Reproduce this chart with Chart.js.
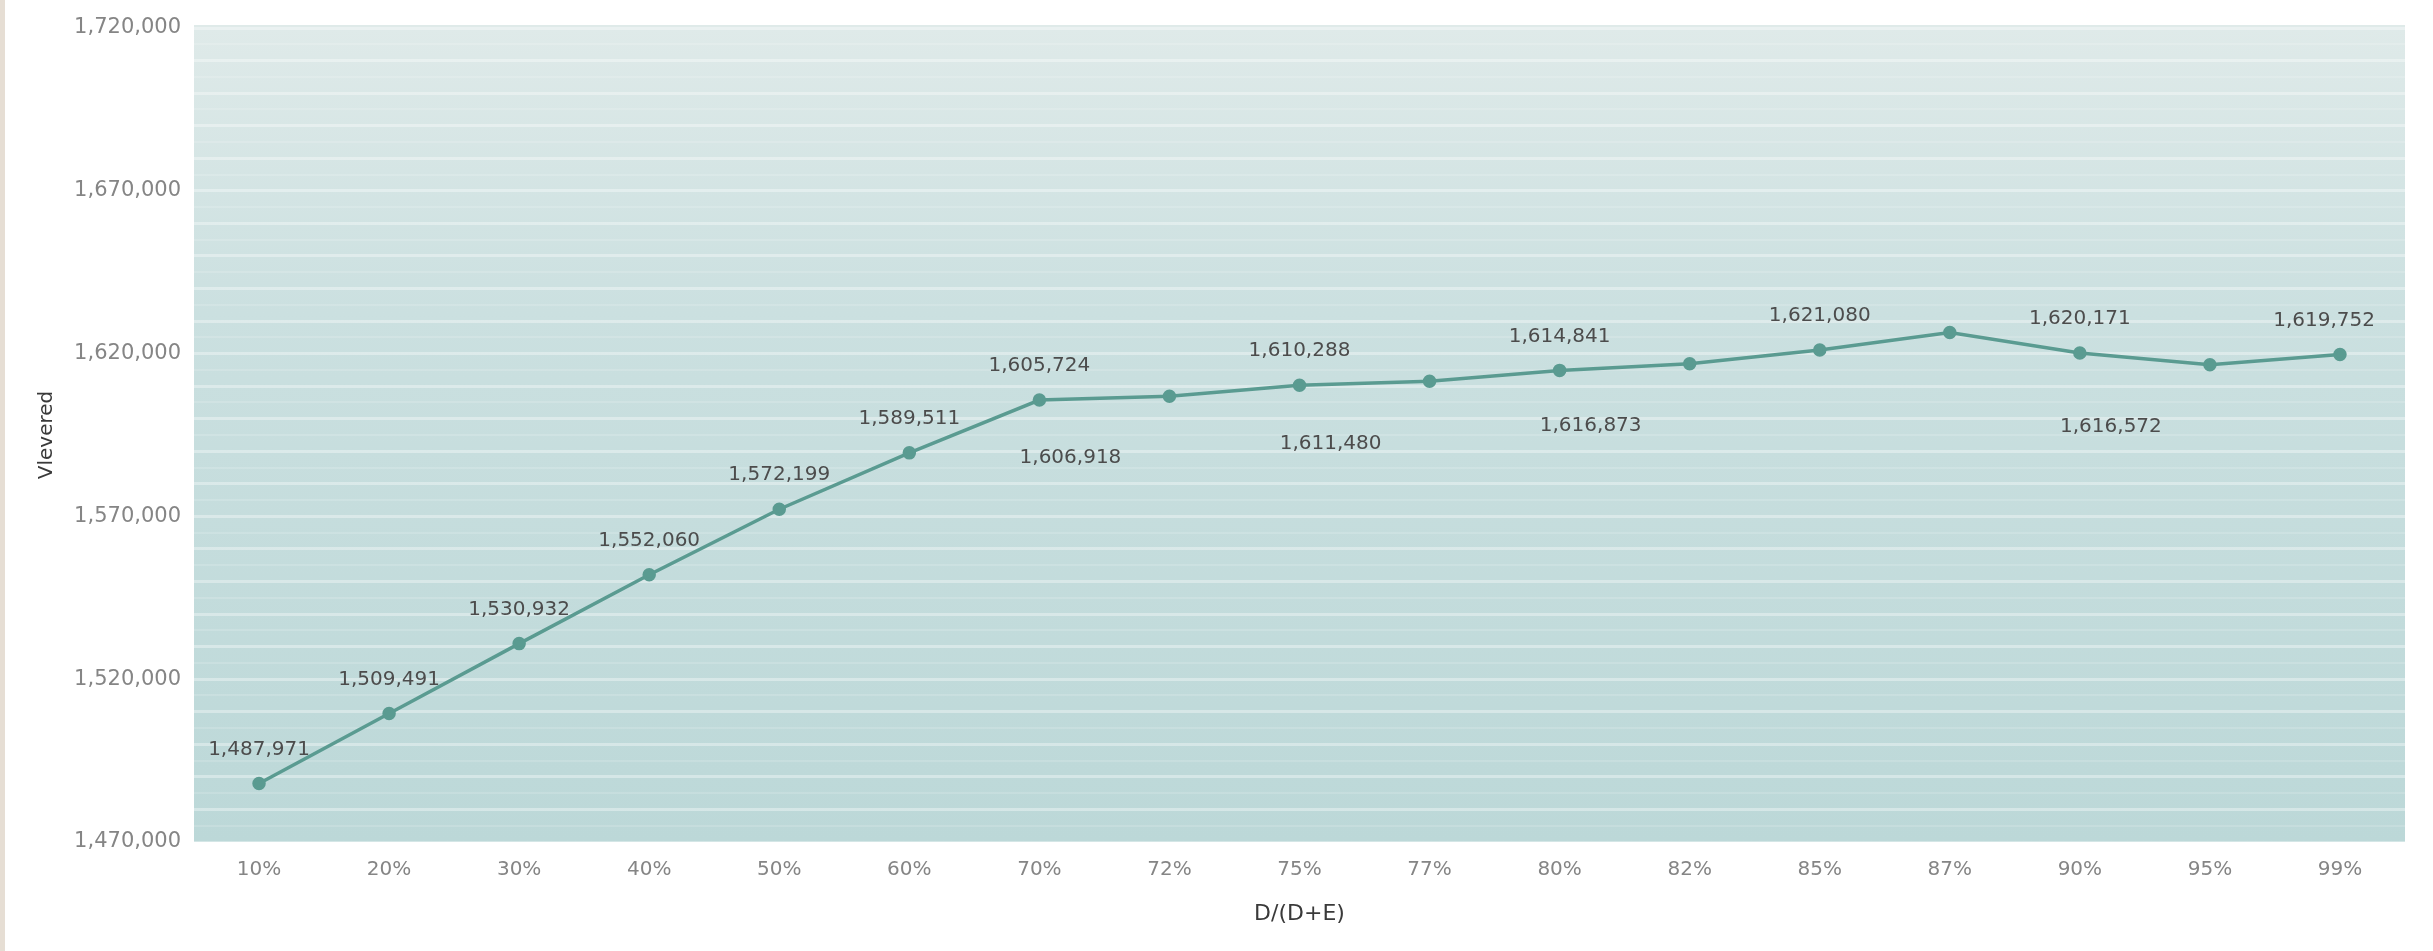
<!DOCTYPE html>
<html>
<head>
<meta charset="utf-8">
<script src="https://cdn.jsdelivr.net/npm/chart.js@4.4.1/dist/chart.umd.min.js"></script>
<style>
  html, body { margin: 0; padding: 0; background: #ffffff; overflow: hidden; }
  #wrap { position: relative; width: 2433px; height: 951px; }
  #strip { position: absolute; left: 0; top: 0; width: 5px; height: 951px; background: #e6ded4; }
  canvas { display: block; }
</style>
</head>
<body>
<div id="wrap">
  <canvas id="c" width="2433" height="951"></canvas>
  <div id="strip"></div>
</div>
<script>
// ---- data ----
const categories = ['10%', '20%', '30%', '40%', '50%', '60%', '70%', '72%', '75%', '77%', '80%', '82%', '85%', '87%', '90%', '95%', '99%'];
const vlevered = [1487971, 1509491, 1530932, 1552060, 1572199, 1589511, 1605724, 1606918, 1610288, 1611480, 1614841, 1616873, 1621080, 1626500, 1620171, 1616572, 1619752];
const yMin = 1470000;
const yMax = 1720000;
const yLabelStep = 50000;
const yStripeStep = 5000;
const xTitle = 'D/(D+E)';
const yTitle = 'Vlevered';
// where each value label sits relative to its point (default: above)
const labelSides = { 7: 'below', 9: 'below', 11: 'below', 13: 'none', 15: 'below' };

const FONT = 'DejaVu Sans';
const fmt = v => Math.round(v).toLocaleString('en-US');

const bgPlugin = {
  id: 'plotBg',
  beforeDraw(chart) {
    const { ctx, chartArea: a } = chart;
    const g = ctx.createLinearGradient(0, a.top, 0, a.bottom);
    g.addColorStop(0, '#dfeae9');
    g.addColorStop(0.35, '#cbe0e0');
    g.addColorStop(1, '#bcd8d8');
    ctx.save();
    ctx.fillStyle = g;
    ctx.fillRect(a.left, a.top - 3, a.right - a.left, a.bottom - a.top + 3);
    ctx.restore();
  }
};

const valueLabelPlugin = {
  id: 'valueLabels',
  afterDatasetsDraw(chart, args, opts) {
    const meta = chart.getDatasetMeta(0);
    const ctx = chart.ctx;
    const a = chart.chartArea;
    ctx.save();
    ctx.font = opts.font;
    ctx.fillStyle = opts.color;
    ctx.textAlign = 'center';
    ctx.textBaseline = 'middle';
    meta.data.forEach((pt, i) => {
      const side = opts.sides[i] || 'above';
      if (side === 'none') return;
      const text = fmt(chart.data.datasets[0].data[i]);
      let x = pt.x, y = pt.y;
      if (side === 'below') { x += opts.belowDx; y += opts.belowDy; }
      else { y += opts.aboveDy; }
      const w = ctx.measureText(text).width;
      x = Math.min(x, a.right - w / 2 - 30);
      ctx.fillText(text, x, y);
    });
    ctx.restore();
  }
};

new Chart(document.getElementById('c'), {
  type: 'line',
  data: {
    labels: categories,
    datasets: [{
      label: yTitle,
      data: vlevered,
      borderColor: '#5a9b91',
      backgroundColor: '#5a9b91',
      borderWidth: 3.5,
      pointRadius: 5,
      pointBackgroundColor: '#5a9b91',
      pointBorderColor: '#5a9b91',
      tension: 0,
      fill: false
    }]
  },
  options: {
    responsive: false,
    animation: false,
    layout: { padding: { left: 35, right: 28, top: 28, bottom: 0 } },
    plugins: {
      legend: { display: false },
      tooltip: { enabled: false },
      valueLabels: {
        font: '20px "' + FONT + '"',
        color: '#4c4c4c',
        sides: labelSides,
        aboveDy: -34,
        belowDx: -99,
        belowDy: 62
      }
    },
    scales: {
      x: {
        offset: true,
        grid: { display: false, drawTicks: false },
        border: { display: false },
        ticks: { color: '#858585', font: { family: FONT, size: 20 }, padding: 16, maxRotation: 0, autoSkip: false },
        title: { display: true, text: xTitle, color: '#3a3a3a', font: { family: FONT, size: 22 }, padding: { top: 0, bottom: 24 } },
        afterFit: s => { s.height = 951 - 842; }
      },
      y: {
        min: yMin,
        max: yMax,
        afterBuildTicks: s => {
          const t = [];
          for (let v = yMin; v <= yMax; v += yStripeStep) t.push({ value: v });
          s.ticks = t;
        },
        ticks: {
          color: '#858585',
          font: { family: FONT, size: 21 },
          padding: 13,
          autoSkip: false,
          callback: v => ((v - yMin) % yLabelStep === 0 ? fmt(v) : '')
        },
        grid: {
          drawTicks: false,
          color: c => (c.tick && c.tick.value % 10000 === 0) ? 'rgba(255,255,255,0.36)' : 'rgba(255,255,255,0.15)',
          lineWidth: c => (c.tick && c.tick.value % 10000 === 0) ? 3 : 2
        },
        border: { display: false },
        title: { display: true, text: yTitle, color: '#3a3a3a', font: { family: FONT, size: 20 }, padding: { top: 0, bottom: 0 } },
        afterFit: s => { s.width = 194 - 35; }
      }
    }
  },
  plugins: [bgPlugin, valueLabelPlugin]
});
</script>
</body>
</html>
